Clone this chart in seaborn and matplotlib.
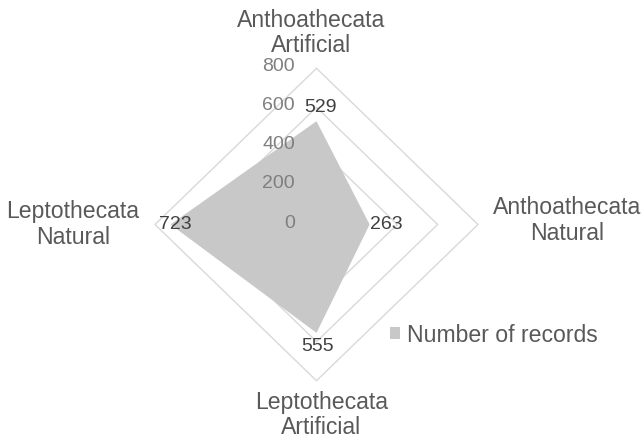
import numpy as np
import matplotlib
matplotlib.use("Agg")
import matplotlib.pyplot as plt
from matplotlib.patches import Patch
import seaborn as sns

# Data
categories = ["Anthoathecata\nArtificial", "Anthoathecata\nNatural",
              "Leptothecata\nArtificial", "Leptothecata\nNatural"]
records = [529, 263, 555, 723]
ring_values = [0, 200, 400, 600, 800]
series_name = "Number of records"

sns.set_theme(style="white")
plt.rcParams["font.family"] = ["Liberation Sans", "DejaVu Sans"]

W, H = 644, 440
fig = plt.figure(figsize=(W / 100, H / 100), dpi=100)
ax = fig.add_axes([0, 0, 1, 1])
ax.set_axis_off()

# Map value units to pixels (centre of the radar and scale per axis)
cx, cy = 316.5, 224.5
sx, sy = 161.5 / 800, 156.2 / 800
ax.set_xlim(-cx / sx, (W - cx) / sx)
ax.set_ylim(-(H - cy) / sy, cy / sy)

# Clockwise from the top
angles = np.pi / 2 - np.arange(len(categories)) * 2 * np.pi / len(categories)
cos_a, sin_a = np.round(np.cos(angles), 12), np.round(np.sin(angles), 12)

# Grid rings
for rv in ring_values[1:]:
    gx = np.append(rv * cos_a, rv * cos_a[0])
    gy = np.append(rv * sin_a, rv * sin_a[0])
    ax.plot(gx, gy, color="#d9d9d9", lw=1.0, zorder=1)

# Filled series
vals = np.array(records, dtype=float)
ax.fill(vals * cos_a, vals * sin_a, color="#c8c8c8", lw=0, zorder=2)

# Radial tick labels along the top axis
for rv in ring_values:
    ax.annotate(str(rv), xy=(0, rv), xytext=(-21.5, 1.5), textcoords="offset pixels",
                ha="right", va="center", fontsize=14, color="#7f7f7f", zorder=4)

# Data labels
label_offsets = [(3.5, 13.5), (16.5, 0), (1, -14), (4.5, 0)]
for v, ca, sa, off in zip(records, cos_a, sin_a, label_offsets):
    ax.annotate(str(v), xy=(v * ca, v * sa), xytext=off, textcoords="offset pixels",
                ha="center", va="center", fontsize=14, color="#404040", zorder=5)

# Category labels
label_radius_px = [(191.5), (250.5), (190.5), (243.5)]
label_shift_px = [(-5, 0), (0, 4), (5, 0), (0, 0)]
for cat, ca, sa, rp, sh in zip(categories, cos_a, sin_a, label_radius_px, label_shift_px):
    px = ca * rp + sh[0]
    py = sa * rp + sh[1]
    ax.text(px / sx, py / sy, cat, ha="center", va="center", fontsize=16.6,
            color="#595959", linespacing=1.12, zorder=5)

# Legend
handle = Patch(facecolor="#c8c8c8", edgecolor="none", label=series_name)
leg = ax.legend(handles=[handle], loc="center left",
                bbox_to_anchor=(390 / W, 1 - 335 / H), frameon=False,
                fontsize=16.6, handlelength=0.45, handleheight=0.45,
                handletextpad=0.3, borderpad=0, borderaxespad=0)
for t in leg.get_texts():
    t.set_color("#595959")

fig.savefig("out.png", dpi=100, facecolor="white")
